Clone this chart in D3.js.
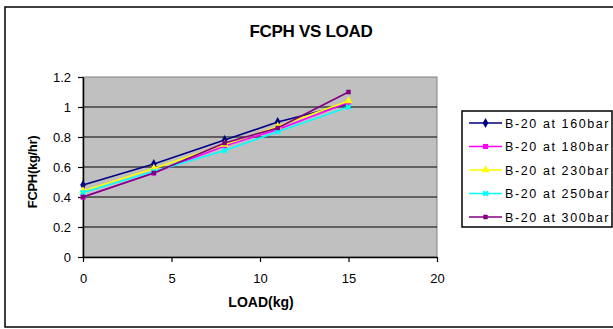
<!DOCTYPE html>
<html>
<head>
<meta charset="utf-8">
<script src="https://cdn.jsdelivr.net/npm/d3@7"></script>
<style>
  body { margin: 0; background: #fff; }
  text { font-family: "Liberation Sans", Arial, sans-serif; }
</style>
</head>
<body>
<svg width="613" height="329"></svg>
<script>
// data
const loads = [0, 4, 8, 11, 15];
const seriesNames = ["B-20 at 160bar", "B-20 at 180bar", "B-20 at 230bar", "B-20 at 250bar", "B-20 at 300bar"];
const fcph160 = [0.48, 0.62, 0.78, 0.90, 1.02];
const fcph180 = [0.40, 0.56, 0.74, 0.85, 1.03];
const fcph230 = [0.44, 0.59, 0.75, 0.87, 1.04];
const fcph250 = [0.43, 0.57, 0.71, 0.835, 1.00];
const fcph300 = [0.40, 0.56, 0.76, 0.86, 1.10];
const xTicks = [0, 5, 10, 15, 20];
const yTicks = [0, 0.2, 0.4, 0.6, 0.8, 1, 1.2];

const colors = ["#000080", "#ff00ff", "#ffff00", "#00ffff", "#800080"];
const symbols = [d3.symbolDiamond, d3.symbolSquare, d3.symbolTriangle, d3.symbolCross, d3.symbolSquare];
const rotations = [0, 0, 0, 45, 0];
const sizes = [28, 26, 28, 24, 20];
const allSeries = [fcph160, fcph180, fcph230, fcph250, fcph300];

const svg = d3.select("svg");

// outer chart frame
svg.append("rect")
  .attr("x", 5).attr("y", 7).attr("width", 640).attr("height", 320)
  .attr("fill", "#fff").attr("stroke", "#000").attr("stroke-width", 1.5);

const xScale = d3.scaleLinear().domain([0, 20]).range([83, 437]);
const yScale = d3.scaleLinear().domain([0, 1.2]).range([257, 77]);

// plot area
svg.append("rect")
  .attr("x", xScale(0)).attr("y", yScale(1.2))
  .attr("width", xScale(20) - xScale(0)).attr("height", yScale(0) - yScale(1.2))
  .attr("fill", "#c0c0c0").attr("stroke", "#808080").attr("stroke-width", 1);

// gridlines
svg.append("g").selectAll("line")
  .data(yTicks.filter(d => d > 0 && d < 1.2))
  .join("line")
  .attr("x1", xScale(0)).attr("x2", xScale(20))
  .attr("y1", d => yScale(d)).attr("y2", d => yScale(d))
  .attr("stroke", "#000").attr("stroke-width", 1);

// axes
let yAxis = d3.axisLeft(yScale).tickValues(yTicks).tickSize(5).tickSizeOuter(0)
  .tickFormat(d3.format("~g"));
let yAxisG = svg.append("g").attr("transform", `translate(${xScale(0)},0)`).call(yAxis);

let xAxis = d3.axisBottom(xScale).tickValues(xTicks).tickSize(5).tickSizeOuter(0);
let xAxisG = svg.append("g").attr("transform", `translate(0,${yScale(0)})`).call(xAxis);

[yAxisG, xAxisG].forEach(g => {
  g.select(".domain").attr("stroke", "#000").attr("stroke-width", 1.5);
  g.selectAll(".tick line").attr("stroke", "#000").attr("stroke-width", 1.2);
  g.selectAll(".tick text").attr("font-size", 13).attr("fill", "#000")
    .style("font-family", "'Liberation Sans', Arial, sans-serif");
});
yAxisG.selectAll(".tick text").attr("x", -12).attr("dy", "0.36em");
xAxisG.selectAll(".tick text").attr("y", 26).attr("dy", 0);

// lines and markers
const line = d3.line()
  .x((d, i) => xScale(loads[i]))
  .y(d => yScale(d));

allSeries.forEach((vals, k) => {
  svg.append("path")
    .attr("d", line(vals))
    .attr("fill", "none")
    .attr("stroke", colors[k])
    .attr("stroke-width", 1.6);
  svg.append("g").selectAll("path")
    .data(vals)
    .join("path")
    .attr("transform", (d, i) => `translate(${xScale(loads[i])},${yScale(d)}) rotate(${rotations[k]})`)
    .attr("d", d3.symbol().type(symbols[k]).size(sizes[k]))
    .attr("fill", colors[k]);
});

// titles
svg.append("text")
  .attr("x", 311).attr("y", 37)
  .attr("text-anchor", "middle")
  .attr("font-size", 17).attr("font-weight", "bold")
  .attr("letter-spacing", -0.3)
  .text("FCPH VS LOAD");

svg.append("text")
  .attr("x", 261).attr("y", 307)
  .attr("text-anchor", "middle")
  .attr("font-size", 14).attr("font-weight", "bold")
  .text("LOAD(kg)");

svg.append("text")
  .attr("transform", `translate(37,172) rotate(-90)`)
  .attr("text-anchor", "middle")
  .attr("font-size", 13).attr("font-weight", "bold")
  .attr("letter-spacing", -0.3)
  .text("FCPH(kg/hr)");

// legend
const legend = svg.append("g").attr("transform", "translate(462,111)");
legend.append("rect")
  .attr("width", 150).attr("height", 116)
  .attr("fill", "#fff").attr("stroke", "#000").attr("stroke-width", 1.5);

seriesNames.forEach((name, k) => {
  let yy = 12 + k * 23.5;
  legend.append("line")
    .attr("x1", 7).attr("x2", 40).attr("y1", yy).attr("y2", yy)
    .attr("stroke", colors[k]).attr("stroke-width", 1.6);
  legend.append("path")
    .attr("transform", `translate(23.5,${yy}) rotate(${rotations[k]})`)
    .attr("d", d3.symbol().type(symbols[k]).size(sizes[k]))
    .attr("fill", colors[k]);
  legend.append("text")
    .attr("x", 43).attr("y", yy + 4.5)
    .attr("font-size", 12.5)
    .attr("letter-spacing", 1.6)
    .text(name);
});
</script>
</body>
</html>
